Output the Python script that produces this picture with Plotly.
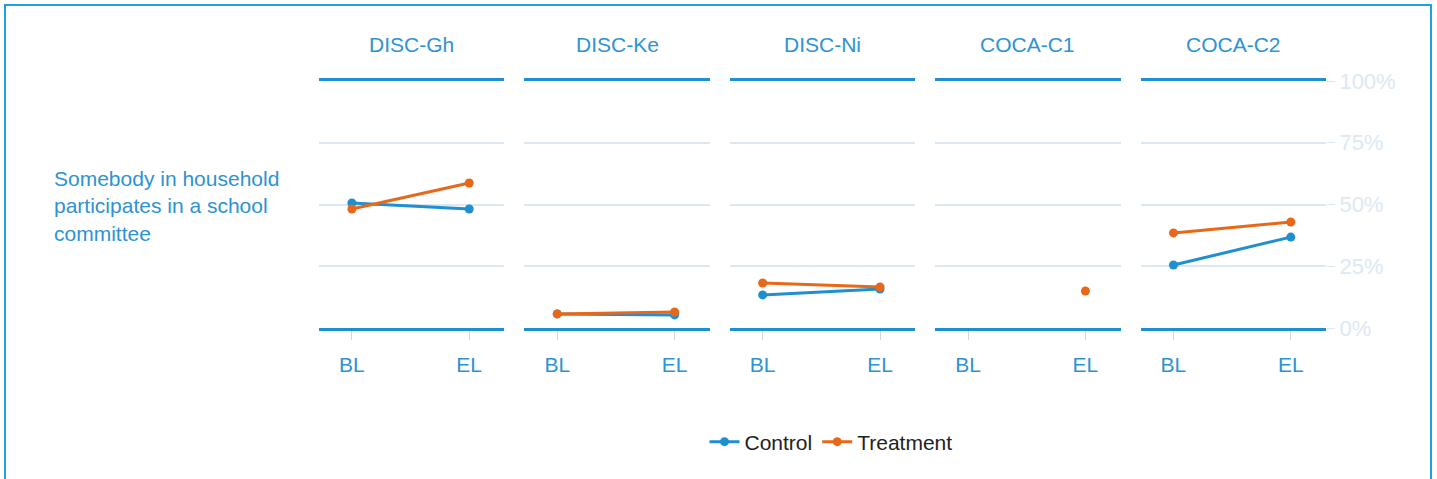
import plotly.graph_objects as go
from plotly.subplots import make_subplots

# dados
paineis = ["DISC-Gh", "DISC-Ke", "DISC-Ni", "COCA-C1", "COCA-C2"]
ondas = ["BL", "EL"]
controle = [[0.506, 0.482], [0.057, 0.053], [0.134, 0.158], [None, None], [0.255, 0.368]]
tratamento = [[0.482, 0.587], [0.057, 0.065], [0.182, 0.166], [None, 0.150], [0.385, 0.429]]
y_ticks = [0, 0.25, 0.5, 0.75, 1.0]
y_labels = ["0%", "25%", "50%", "75%", "100%"]
rotulo = "Somebody in household<br>participates in a school<br>committee"

AZUL = "#1f8fd0"
LARANJA = "#e8681a"
TEXTO = "#2d93d2"
GRADE = "#d9e8f3"
FONTE = "Liberation Sans, Arial, sans-serif"

W, H = 1437, 479
L, R, T, B = 319, 111, 81, 151
pw = W - L - R
ph = H - T - B


def px_x(x):
    return (x - L) / pw


def px_y(y):
    return (H - B - y) / ph


fig = make_subplots(rows=1, cols=5, subplot_titles=paineis,
                    horizontal_spacing=20 / pw)

for i, nome in enumerate(paineis):
    c = i + 1
    fig.add_trace(go.Scatter(
        x=ondas, y=controle[i], mode="lines+markers", name="Control",
        line=dict(color=AZUL, width=3), marker=dict(size=9, color=AZUL),
        legendgroup="c", showlegend=(i == 0), cliponaxis=False,
    ), row=1, col=c)
    fig.add_trace(go.Scatter(
        x=ondas, y=tratamento[i], mode="lines+markers", name="Treatment",
        line=dict(color=LARANJA, width=3), marker=dict(size=9, color=LARANJA),
        legendgroup="t", showlegend=(i == 0), cliponaxis=False,
    ), row=1, col=c)
    fig.update_xaxes(
        type="category", range=[-0.28, 1.3],
        showline=True, mirror=True, linecolor=AZUL, linewidth=3,
        showgrid=False, zeroline=False,
        ticks="outside", ticklen=9, tickcolor="#d6d6d6", tickwidth=1,
        tickfont=dict(size=21, color=TEXTO, family=FONTE),
        ticklabelstandoff=7,
        row=1, col=c,
    )
    fig.update_yaxes(
        range=[0, 1], tickvals=y_ticks, ticktext=y_labels,
        showgrid=True, gridcolor=GRADE, gridwidth=1.5, zeroline=False,
        showline=False,
        showticklabels=(c == 5), side="right",
        ticks="outside" if c == 5 else "", ticklen=8, tickcolor=GRADE,
        tickfont=dict(size=22, color="#dce8f2", family=FONTE),
        row=1, col=c,
    )

for a in fig.layout.annotations:
    a.font = dict(size=21, color=TEXTO, family=FONTE)
    a.y = px_y(45)
    a.yanchor = "middle"

fig.add_annotation(
    xref="paper", yref="paper", x=px_x(52), y=px_y(206),
    xanchor="left", yanchor="middle", align="left", showarrow=False,
    text=rotulo, font=dict(size=21, color=TEXTO, family=FONTE),
)

fig.add_shape(
    type="rect", xref="paper", yref="paper",
    x0=px_x(5), x1=px_x(1431), y0=px_y(490), y1=px_y(5),
    line=dict(color="#1da1e2", width=2), fillcolor="rgba(0,0,0,0)",
)

fig.update_layout(
    width=W, height=H,
    paper_bgcolor="white", plot_bgcolor="white",
    margin=dict(l=L, r=R, t=T, b=B),
    font=dict(family=FONTE),
    showlegend=True,
    legend=dict(
        orientation="h", x=px_x(831), y=px_y(442),
        xanchor="center", yanchor="middle",
        font=dict(size=21, color="#222222", family=FONTE),
        itemwidth=30, tracegroupgap=0,
    ),
)

fig.write_html("out.html", config={"displayModeBar": False},
               post_script="document.body.style.margin='0';document.body.style.overflow='hidden';")
